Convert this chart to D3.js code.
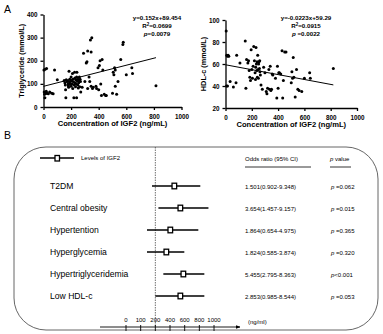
<!DOCTYPE html>
<html>
<head>
<meta charset="utf-8">
<script src="https://cdn.jsdelivr.net/npm/d3@7"></script>
<style>
  body { margin: 0; background: #fff; }
  svg { display: block; font-family: Arial, "Liberation Sans", sans-serif; }
</style>
</head>
<body>
<div id="chart"></div>
<script>
// ---- panel A data: [IGF2 ng/mL, value]
var tg_points = [[3,160],[12,163],[22,167],[5,65],[8,55],[10,40],[12,62],[15,58],[20,68],[25,60],[35,57],[45,65],[60,60],[70,57],[80,160],[100,118],
  [150,115],[155,105],[158,95],[160,75],[162,40],[165,118],[170,110],[175,112],[178,100],[180,92],[182,85],[185,155],[188,108],[190,120],[192,98],[195,102],
  [198,115],[200,90],[200,130],[205,112],[208,100],[210,145],[212,80],[215,120],[218,108],[220,40],[222,95],[225,150],[228,125],[230,105],[232,88],[235,118],
  [238,100],[240,40],[240,130],[242,150],[245,112],[248,95],[250,120],[252,82],[255,105],[258,115],[260,130],[262,88],[265,120],[268,110],[270,65],[280,85],
  [290,232],[300,110],[310,190],[315,196],[320,242],[320,80],[330,130],[335,110],[340,290],[345,238],[350,300],[345,90],[355,80],[360,85],[380,90],[385,80],
  [395,170],[400,75],[405,180],[410,200],[415,100],[420,50],[425,205],[430,160],[440,55],[450,50],[455,50],[500,60],[505,150],[510,140],[515,170],[520,160],
  [520,90],[530,55],[540,110],[560,205],[575,270],[578,280],[600,140],[640,170],[645,145],[815,92]];
var tg_fit = {slope: 0.152, intercept: 89.454};
var tg_text = ["y=0.152x+89.454", "R²=0.0699", "p=0.0079"];

var hdl_points = [[5,90],[10,68],[15,67],[20,68],[25,67],[8,40],[15,40],[35,44],[60,39],[80,43],[85,68],[110,61],[150,81],[155,38],[160,64],[170,61],
  [175,63],[180,54],[185,48],[190,45],[195,73],[200,55],[205,47],[210,58],[215,76],[220,63],[225,52],[228,46],[230,57],[232,75],[235,60],[238,54],[240,62],
  [242,48],[245,68],[248,55],[250,47],[252,60],[255,62],[258,56],[260,63],[262,53],[265,50],[270,41],[280,37],[290,57],[300,52],[310,35],[315,33],[320,38],
  [330,55],[335,37],[340,58],[345,36],[350,37],[355,51],[360,50],[380,47],[390,29],[395,58],[400,38],[405,52],[410,52],[420,51],[430,72],[435,29],[440,45],
  [450,71],[460,71],[500,43],[505,53],[510,47],[515,66],[520,48],[530,30],[540,55],[550,37],[560,36],[580,35],[600,47],[640,52],[645,47],[820,56]];
var hdl_fit = {slope: -0.0223, intercept: 59.29};
var hdl_text = ["y=-0.0223x+59.29", "R²=0.0915", "p =0.0022"];

var x_ticks = [0, 200, 400, 600, 800, 1000];
var tg_ticks = [0, 100, 200, 300, 400];
var hdl_ticks = [20, 40, 60, 80, 100];

// ---- panel B data
var outcomes = ["T2DM", "Central obesity", "Hypertention", "Hyperglycemia", "Hypertriglyceridemia", "Low HDL-c"];
var igf_mid = [459, 541, 404, 350, 582, 541];
var igf_lo  = [177, 242, 143, 143, 309, 200];
var igf_hi  = [813, 924, 786, 595, 868, 868];
var or_text = ["1.501(0.902-9.348)", "3.654(1.457-9.157)", "1.864(0.654-4.975)", "1.824(0.585-3.874)", "5.455(2.795-8.363)", "2.853(0.985-8.544)"];
var p_text  = ["p =0.062", "p =0.015", "p =0.365", "p =0.320", "p<0.001", "p =0.053"];
var forest_ticks = [0, 100, 200, 400, 600, 800, 1000];

var W = 383, H = 334;
var svg = d3.select("#chart").append("svg").attr("width", W).attr("height", H);

function scatter(cfg) {
  var g = svg.append("g");
  var x = d3.scaleLinear().domain([0, 1000]).range(cfg.xr);
  var y = d3.scaleLinear().domain(cfg.yd).range(cfg.yr);

  var xa = g.append("g").attr("transform", "translate(0," + cfg.yr[0] + ")")
    .call(d3.axisBottom(x).tickValues(x_ticks).tickFormat(d3.format("d")).tickSize(3).tickSizeOuter(0));
  var ya = g.append("g").attr("transform", "translate(" + cfg.xr[0] + ",0)")
    .call(d3.axisLeft(y).tickValues(cfg.yticks).tickFormat(d3.format("d")).tickSize(3).tickSizeOuter(0));
  [xa, ya].forEach(function(a) {
    a.selectAll("path,line").attr("stroke", "#000").attr("stroke-width", 1.3);
    a.selectAll("text").attr("font-size", 6.3).attr("font-weight", "bold").attr("fill", "#000");
  });
  xa.selectAll("text").attr("dy", "0.9em");

  g.append("text").attr("x", (cfg.xr[0] + cfg.xr[1]) / 2).attr("y", cfg.yr[0] + 19)
    .attr("text-anchor", "middle").attr("font-size", 7.6).attr("font-weight", "bold")
    .text("Concentration of IGF2 (ng/mL)");
  g.append("text").attr("transform", "translate(" + (cfg.xr[0] - 20) + "," + ((cfg.yr[0] + cfg.yr[1]) / 2) + ") rotate(-90)")
    .attr("text-anchor", "middle").attr("font-size", 7.3).attr("font-weight", "bold")
    .text(cfg.ylabel);

  g.selectAll("circle").data(cfg.pts).enter().append("circle")
    .attr("cx", function(d) { return x(d[0]); })
    .attr("cy", function(d) { return y(d[1]); })
    .attr("r", 1.5).attr("fill", "#000");

  var xmax = d3.max(cfg.pts, function(d) { return d[0]; });
  g.append("line")
    .attr("x1", x(0)).attr("y1", y(cfg.fit.intercept))
    .attr("x2", x(xmax)).attr("y2", y(cfg.fit.intercept + cfg.fit.slope * xmax))
    .attr("stroke", "#000").attr("stroke-width", 1);

  cfg.text.forEach(function(t, i) {
    var tx = g.append("text").attr("x", cfg.tx).attr("y", 20 + i * 8)
      .attr("text-anchor", "middle").attr("font-size", 6.2).attr("font-weight", "bold");
    if (i == 1) {
      tx.append("tspan").text("R");
      tx.append("tspan").attr("font-size", 4.5).attr("dy", -2.5).text("2");
      tx.append("tspan").attr("dy", 2.5).text(t.slice(2));
    } else if (i == 2) {
      tx.append("tspan").attr("font-style", "italic").text("p");
      tx.append("tspan").text(t.slice(1));
    } else tx.text(t);
  });
}

scatter({xr: [43.5, 181.5], yr: [107, 14.5], yd: [0, 400], yticks: tg_ticks, pts: tg_points,
  fit: tg_fit, text: tg_text, tx: 157, ylabel: "Triglyceride (mmol/L)"});
scatter({xr: [225.5, 357], yr: [108, 20], yd: [20, 100], yticks: hdl_ticks, pts: hdl_points,
  fit: hdl_fit, text: hdl_text, tx: 306, ylabel: "HDL-c (mmol/L)"});

svg.append("text").attr("x", 4).attr("y", 13).attr("font-size", 10.5).text("A");
svg.append("text").attr("x", 4).attr("y", 139).attr("font-size", 10.5).text("B");

// ---- panel B forest plot
var fb = svg.append("g");
fb.append("rect").attr("x", 14).attr("y", 147).attr("width", 364).attr("height", 183)
  .attr("rx", 32).attr("ry", 32).attr("fill", "none").attr("stroke", "#555").attr("stroke-width", 0.9);

// even spacing of tick labels, polylinear scale
var fx = d3.scaleLinear().domain(forest_ticks)
  .range(forest_ticks.map(function(d, i) { return 126 + i * 14.67; }));
var rowY = d3.scalePoint().domain(outcomes).range([186, 296]);
var axisY = 327;

fb.append("line").attr("x1", fx(200)).attr("x2", fx(200)).attr("y1", 147).attr("y2", axisY)
  .attr("stroke", "#333").attr("stroke-width", 0.7).attr("stroke-dasharray", "1.5,1");

fb.append("defs").append("marker").attr("id", "arr").attr("viewBox", "0 0 10 10")
  .attr("refX", 9).attr("refY", 5).attr("markerWidth", 5).attr("markerHeight", 5).attr("orient", "auto")
  .append("path").attr("d", "M0,1L10,5L0,9Z").attr("fill", "#000");
fb.append("line").attr("x1", 100).attr("x2", 240).attr("y1", axisY).attr("y2", axisY)
  .attr("stroke", "#000").attr("stroke-width", 0.9).attr("marker-end", "url(#arr)");
fb.selectAll(".ftick").data(forest_ticks).enter().append("line")
  .attr("x1", fx).attr("x2", fx).attr("y1", axisY - 2).attr("y2", axisY + 4)
  .attr("stroke", "#000").attr("stroke-width", 0.9);
fb.selectAll(".flab").data(forest_ticks).enter().append("text")
  .attr("x", fx).attr("y", axisY - 5).attr("text-anchor", "middle").attr("font-size", 6).text(function(d) { return d; });
fb.append("text").attr("x", 248).attr("y", axisY - 3).attr("font-size", 6).text("(ng/ml)");

// legend
fb.append("line").attr("x1", 40).attr("x2", 74).attr("y1", 158).attr("y2", 158).attr("stroke", "#000").attr("stroke-width", 1.4);
fb.append("rect").attr("x", 55).attr("y", 155.5).attr("width", 4.5).attr("height", 5.5)
  .attr("fill", "#fff").attr("stroke", "#000").attr("stroke-width", 1.3);
fb.append("text").attr("x", 81).attr("y", 160).attr("font-size", 6).text("Levels of IGF2");
fb.append("text").attr("x", 245).attr("y", 161).attr("font-size", 6).text("Odds ratio (95% CI)");
fb.append("line").attr("x1", 245).attr("x2", 311).attr("y1", 167).attr("y2", 167).attr("stroke", "#000").attr("stroke-width", 0.8);
var pv = fb.append("text").attr("x", 330).attr("y", 161).attr("font-size", 6);
pv.append("tspan").attr("font-style", "italic").text("p");
pv.append("tspan").text(" value");
fb.append("line").attr("x1", 330).attr("x2", 351).attr("y1", 167).attr("y2", 167).attr("stroke", "#000").attr("stroke-width", 0.8);

var rows = fb.selectAll(".row").data(outcomes).enter().append("g")
  .attr("transform", function(d) { return "translate(0," + rowY(d) + ")"; });
rows.append("text").attr("x", 50).attr("y", 3).attr("font-size", 8.6).attr("fill", "#000").text(function(d) { return d; });
rows.append("line")
  .attr("x1", function(d, i) { return fx(igf_lo[i]); })
  .attr("x2", function(d, i) { return fx(igf_hi[i]); })
  .attr("stroke", "#000").attr("stroke-width", 1.4);
rows.append("rect")
  .attr("x", function(d, i) { return fx(igf_mid[i]) - 2.3; }).attr("y", -2.8)
  .attr("width", 4.6).attr("height", 5.6)
  .attr("fill", "#fff").attr("stroke", "#000").attr("stroke-width", 1.3);
rows.append("text").attr("x", 245).attr("y", 2.5).attr("font-size", 6).text(function(d, i) { return or_text[i]; });
rows.each(function(d, i) {
  var t = d3.select(this).append("text").attr("x", 331).attr("y", 2.5).attr("font-size", 6);
  t.append("tspan").attr("font-style", "italic").text("p");
  t.append("tspan").text(p_text[i].slice(1));
});
</script>
</body>
</html>
